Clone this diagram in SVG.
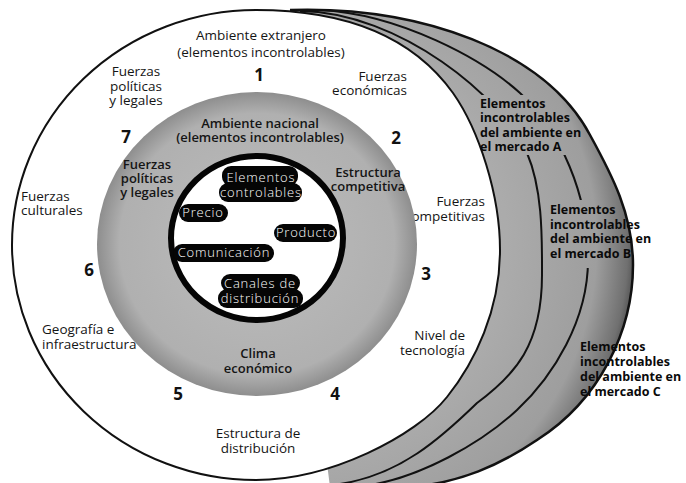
<svg xmlns="http://www.w3.org/2000/svg" width="686" height="483" viewBox="0 0 686 483">
<style>
.t{font-family:"Open Sans","Liberation Sans",sans-serif;font-size:13.5px;fill:#151515}
.g{font-family:"Open Sans","Liberation Sans",sans-serif;font-size:13px;font-weight:600;fill:#151515}
.n{font-family:"Open Sans","Liberation Sans",sans-serif;font-size:17px;font-weight:700;fill:#111}
.m{font-family:"Open Sans","Liberation Sans",sans-serif;font-size:12.5px;font-weight:700;fill:#0a0a0a}
.w{font-family:"Open Sans","Liberation Sans",sans-serif;font-size:13px;font-weight:300;fill:#fff;letter-spacing:0.8px}
.blob{fill:#050505}
.ln{fill:none;stroke:#111;stroke-width:2}
.mid{text-anchor:middle}
.end{text-anchor:end}
</style>
<defs>
<radialGradient id="band" gradientUnits="userSpaceOnUse" cx="300" cy="245" r="345">
<stop offset="0" stop-color="#b4b4b4"/>
<stop offset="0.6" stop-color="#ababab"/>
<stop offset="0.86" stop-color="#9e9e9e"/>
<stop offset="0.95" stop-color="#707070"/>
<stop offset="1" stop-color="#333"/>
</radialGradient>
<radialGradient id="ring" gradientUnits="userSpaceOnUse" cx="257" cy="244" r="160" gradientTransform="translate(0 244) scale(1 0.95) translate(0 -244)">
<stop offset="0" stop-color="#bdbdbd"/>
<stop offset="0.86" stop-color="#b0b0b0"/>
<stop offset="1" stop-color="#8e8e8e"/>
</radialGradient>
<mask id="gaps" maskUnits="userSpaceOnUse" x="0" y="0" width="686" height="483">
<rect x="0" y="0" width="686" height="483" fill="#fff"/>
<rect x="474" y="95" width="100" height="60" fill="#000"/>
<rect x="546" y="200" width="108" height="68" fill="#000"/>
</mask>
</defs>

<g id="markets-back">
<path d="M290,10 C420,6 545,50 590,135 C612,175 633,215 633,265 C633,330 600,400 537,440 C500,465 460,483 410,487 L330,487 L300,250 Z" fill="url(#band)"/>
<g mask="url(#gaps)">
<path class="ln" d="M300,11 C400,12 503,98 527,153 C543,190 542,240 542,275 C542,345 515,375 477,403 C441,438 400,475 340,484"/>
<path class="ln" d="M320,10 C400,14 483,59.5 520,93 C560,130 589,195 588,260 C588,320 553.5,376 517,410 C480.5,444 420,477 370,485"/>
</g>
<path class="ln" style="stroke-width:2.5" d="M290,10 C420,6 545,50 590,135 C612,175 633,215 633,265 C633,330 600,400 537,440 C500,465 460,483 410,487"/>
</g>

<g id="foreign">
<path d="M256,10 C350,10 415,40 453,93 C479,130 500,195 500,250 C500,310 475,362 447,397 C416,436 330,480 256,480 A244,235 0 0 1 256,10 Z" fill="#fff" stroke="#111" stroke-width="2"/>
<text class="t mid" x="261" y="40">Ambiente extranjero</text>
<text class="t mid" x="261" y="57">(elementos incontrolables)</text>
<text class="n mid" x="259" y="81">1</text>
<text class="t mid" x="136" y="76">Fuerzas</text>
<text class="t mid" x="136" y="90.5">políticas</text>
<text class="t mid" x="136" y="105">y legales</text>
<text class="t end" x="407" y="81">Fuerzas</text>
<text class="t end" x="407" y="95">económicas</text>
<text class="t" x="21" y="201">Fuerzas</text>
<text class="t" x="21" y="215">culturales</text>
<text class="t end" x="485" y="206">Fuerzas</text>
<text class="t end" x="485" y="221">competitivas</text>
<text class="n mid" x="89" y="276">6</text>
<text class="n mid" x="426" y="280">3</text>
<text class="t" x="42" y="334">Geografía e</text>
<text class="t" x="42" y="349">infraestructura</text>
<text class="t end" x="465" y="340">Nivel de</text>
<text class="t end" x="465" y="355">tecnología</text>
<text class="n mid" x="178" y="400">5</text>
<text class="n mid" x="335" y="400">4</text>
<text class="t mid" x="258" y="438">Estructura de</text>
<text class="t mid" x="258" y="453">distribución</text>
</g>

<g id="national">
<ellipse cx="257" cy="244" rx="160" ry="152" fill="url(#ring)"/>
<text class="g mid" x="260" y="128">Ambiente nacional</text>
<text class="g mid" x="260" y="142">(elementos incontrolables)</text>
<text class="n mid" x="126" y="143">7</text>
<text class="n mid" x="396" y="144">2</text>
<text class="g mid" x="147" y="169">Fuerzas</text>
<text class="g mid" x="147" y="183">políticas</text>
<text class="g mid" x="147" y="197">y legales</text>
<text class="g mid" x="368" y="177">Estructura</text>
<text class="g mid" x="368" y="191">competitiva</text>
<text class="g mid" x="258" y="358">Clima</text>
<text class="g mid" x="258" y="373">económico</text>
</g>

<g id="controllable">
<ellipse cx="257" cy="238" rx="86" ry="82" fill="#fff" stroke="#050505" stroke-width="6"/>
</g>
<g id="elementos-controlables">
<rect class="blob" x="222" y="166" width="76" height="20" rx="9"/>
<rect class="blob" x="219" y="183" width="83" height="19" rx="9"/>
<text class="w mid" x="261" y="182">Elementos</text>
<text class="w mid" x="261" y="197">controlables</text>
</g>
<g id="precio">
<rect class="blob" x="179" y="204" width="49" height="18" rx="9"/>
<text class="w mid" x="203" y="216.5">Precio</text>
</g>
<g id="producto">
<rect class="blob" x="274" y="224" width="63" height="18" rx="9"/>
<text class="w mid" x="306" y="236.5">Producto</text>
</g>
<g id="comunicacion">
<rect class="blob" x="173" y="244" width="101" height="18" rx="9"/>
<text class="w mid" x="224" y="256.5">Comunicación</text>
</g>
<g id="canales">
<rect class="blob" x="221" y="274" width="79" height="18" rx="9"/>
<rect class="blob" x="218" y="289" width="85" height="19" rx="9"/>
<text class="w mid" x="260" y="287.5">Canales de</text>
<text class="w mid" x="260" y="302.5">distribución</text>
</g>

<g id="mercado-a">
<text class="m" x="480" y="108">Elementos</text>
<text class="m" x="480" y="122">incontrolables</text>
<text class="m" x="480" y="136.5">del ambiente en</text>
<text class="m" x="480" y="151">el mercado A</text>
</g>
<g id="mercado-b">
<text class="m" x="550" y="214">Elementos</text>
<text class="m" x="550" y="228.5">incontrolables</text>
<text class="m" x="550" y="243">del ambiente en</text>
<text class="m" x="550" y="257.5">el mercado B</text>
</g>
<g id="mercado-c">
<text class="m" x="580" y="351">Elementos</text>
<text class="m" x="580" y="366">incontrolables</text>
<text class="m" x="580" y="381">del ambiente en</text>
<text class="m" x="580" y="396">el mercado C</text>
</g>
</svg>
